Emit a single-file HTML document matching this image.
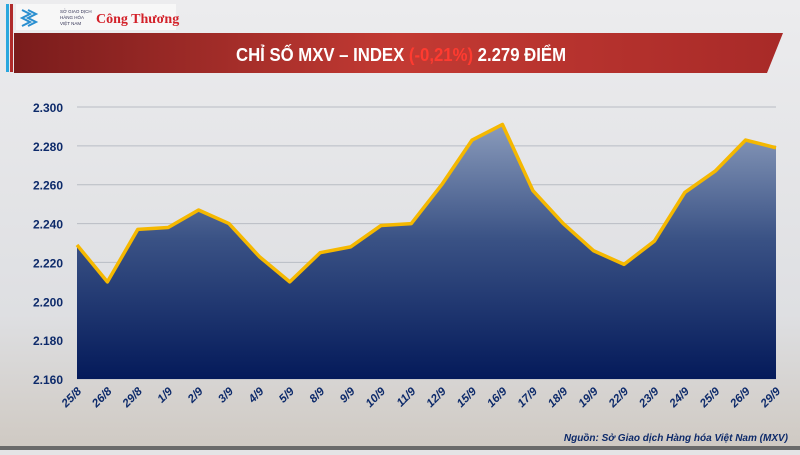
<!DOCTYPE html><html><head><meta charset="utf-8"><style>
body{margin:0;width:800px;height:450px;overflow:hidden;background:#e4e4e6;font-family:"Liberation Sans",sans-serif}
</style></head><body>
<svg id="s" width="800" height="450" xmlns="http://www.w3.org/2000/svg">
<defs>
<linearGradient id="bg" x1="0" y1="0" x2="0" y2="1"><stop offset="0" stop-color="#ececee"/><stop offset="0.7" stop-color="#dedfe2"/><stop offset="1" stop-color="#cfc9c2"/></linearGradient>
<linearGradient id="area" x1="0" y1="0" x2="0" y2="1"><stop offset="0" stop-color="#8a9bbb"/><stop offset="0.45" stop-color="#3a5285"/><stop offset="1" stop-color="#041a5a"/></linearGradient>
<linearGradient id="ban" x1="0" y1="0" x2="1" y2="0"><stop offset="0" stop-color="#7a1c1c"/><stop offset="0.5" stop-color="#c33a33"/><stop offset="1" stop-color="#a82a28"/></linearGradient>
</defs>
<rect width="800" height="450" fill="url(#bg)"/>
<rect x="0" y="446" width="800" height="4" fill="#6a6a6a"/>
<rect x="6" y="4" width="3" height="68" fill="#2aa7de"/>
<rect x="10" y="4" width="3" height="68" fill="#b02b2b"/>
<rect x="16" y="4" width="160" height="26" fill="#f7f7f7"/>
<path d="M22 10 l8 4 -8 4 8 4 -8 4 M28 10 l8 4 -8 4 8 4 -8 4" stroke="#2a8fd0" stroke-width="2" fill="none"/>
<text x="60" y="13" font-size="4.5" fill="#335">SỞ GIAO DỊCH</text>
<text x="60" y="19" font-size="4.5" fill="#335">HÀNG HÓA</text>
<text x="60" y="25" font-size="4.5" fill="#335">VIỆT NAM</text>
<text x="96" y="23" font-family="Liberation Serif" font-weight="bold" font-size="14" fill="#d3222a">Công Thương</text>
<path d="M14 33 L783 33 L767 73 L14 73 Z" fill="url(#ban)"/>
<text x="236" y="61" font-size="18" font-weight="bold" fill="#fff" textLength="330" lengthAdjust="spacingAndGlyphs">CHỈ SỐ MXV – INDEX <tspan fill="#ff3b30">(-0,21%)</tspan> 2.279 ĐIỂM</text>
<g id="g"></g>
<text x="788" y="441" text-anchor="end" font-size="10" font-style="italic" font-weight="bold" fill="#0d2a6a">Nguồn: Sở Giao dịch Hàng hóa Việt Nam (MXV)</text>
</svg>
<script>
var v=[2229,2210,2237,2238,2247,2240,2223,2210,2225,2228,2239,2240,2260,2283,2291,2257,2240,2226,2219,2231,2256,2267,2283,2279];
var l=["25/8","26/8","29/8","1/9","2/9","3/9","4/9","5/9","8/9","9/9","10/9","11/9","12/9","15/9","16/9","17/9","18/9","19/9","22/9","23/9","24/9","25/9","26/9","29/9"];
var x0=77,x1=776,st=(x1-x0)/23,Y=function(a){return 379-(a-2160)*272/140};
var h="";
for(var i=0;i<8;i++){var val=2160+i*20,y=Y(val);h+='<line x1="77" x2="776" y1="'+y+'" y2="'+y+'" stroke="#b8bcc4" stroke-width="1"/>';
h+='<text x="63" y="'+(y+5)+'" text-anchor="end" font-size="12" font-weight="bold" fill="#0d2a6a">'+(val/1000).toFixed(3)+'</text>';}
var p="";for(i=0;i<24;i++){p+=(x0+i*st)+","+Y(v[i])+" ";}
h+='<polygon points="'+x0+',379 '+p+x1+',379" fill="url(#area)"/>';
h+='<polyline points="'+p+'" fill="none" stroke="#f5b800" stroke-width="3.5" stroke-linejoin="round"/>';
for(i=0;i<24;i++){var x=x0+i*st+5;h+='<text transform="translate('+x+',392) rotate(-45)" text-anchor="end" font-size="11.5" font-style="italic" font-weight="bold" fill="#0d2a6a">'+l[i]+'</text>';}
document.getElementById("g").innerHTML=h;
</script>
</body></html>
